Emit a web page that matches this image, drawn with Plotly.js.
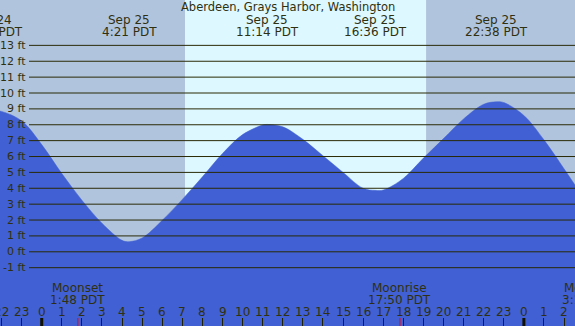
<!DOCTYPE html>
<html>
<head>
<meta charset="utf-8">
<script src="https://cdn.plot.ly/plotly-3.0.1.min.js"></script>
<style>
html,body{margin:0;padding:0;background:#fff;}
#chart{width:575px;height:326px;}
</style>
</head>
<body>
<div id="chart"></div>
<script>
// ---- data (hours relative to midnight starting Sep 25, heights in ft) ----
const tideHours = [-2.52, -2, -1, 0, 1, 2, 3, 4, 4.35, 5, 6, 7, 8, 9, 10, 11, 11.233, 12, 13, 14, 15, 16, 16.6, 17, 18, 19, 20, 21, 22, 22.633, 23, 24, 25, 26, 26.546];
const tideFeet  = [8.92, 8.84, 8.25, 6.75, 4.93, 3.25, 1.80, 0.72, 0.64, 0.87, 1.98, 3.30, 4.72, 6.19, 7.38, 7.98, 8.02, 7.87, 7.08, 6.05, 5.00, 4.00, 3.87, 3.89, 4.62, 5.90, 7.13, 8.37, 9.29, 9.45, 9.40, 8.59, 7.05, 5.23, 4.20];

const extremaHours = [-2.52, 4.35, 11.233, 16.6, 22.633];
const extremaDates = ["Sep 24", "Sep 25", "Sep 25", "Sep 25", "Sep 25"];
const extremaTimes = ["21:32 PDT", "4:21 PDT", "11:14 PDT", "16:36 PDT", "22:38 PDT"];

const moonHours  = [1.8, 17.833, 27.25];
const moonNames  = ["Moonset", "Moonrise", "Moonset"];
const moonTimes  = ["1:48 PDT", "17:50 PDT", "3:15 PDT"];

const sunrise = 7.133, sunset = 19.133;
const midnights = [0, 24];

const hourTicks = [-2,-1,0,1,2,3,4,5,6,7,8,9,10,11,12,13,14,15,16,17,18,19,20,21,22,23,24,25,26];
const hourLabels = hourTicks.map(h => String((h + 24) % 24));

const feetLevels = [-1,0,1,2,3,4,5,6,7,8,9,10,11,12,13];
const feetLabels = feetLevels.map(f => f + " ft");

// ---- layout constants ----
const W = 575, H = 326;
const xRange = [-2.076, 26.546];
const yRange = [-4.673, 15.857];
const txt = "#30300f";
const fam = "DejaVu Sans";
const font = {family: fam, size: 12, color: txt};
const fontSmall = {family: fam, size: 11, color: txt};
const fontTitle = {family: fam, size: 11.5, color: txt};
const nightColor = "#b0c4de", dayColor = "#ddf8ff", waterColor = "#4160d4";
const py = p => 1 - p / H;   // pixel-from-top -> paper y
const px = h => (h - xRange[0]) / (xRange[1] - xRange[0]);   // hour -> paper x

const traces = [
  {x: [xRange[0] - 2, xRange[1] + 2], y: [-20, -20], mode: "lines", line: {width: 0, color: waterColor}, hoverinfo: "skip", showlegend: false},
  {x: tideHours, y: tideFeet, mode: "lines", line: {shape: "spline", smoothing: 1, width: 0.5, color: waterColor},
   fill: "tonexty", fillcolor: waterColor, hoverinfo: "skip", showlegend: false}
];

const shapes = [];
shapes.push({type: "rect", xref: "x", yref: "paper", x0: xRange[0] - 5, x1: sunrise, y0: 0, y1: 1, fillcolor: nightColor, line: {width: 0}, layer: "below"});
shapes.push({type: "rect", xref: "x", yref: "paper", x0: sunset, x1: xRange[1] + 5, y0: 0, y1: 1, fillcolor: nightColor, line: {width: 0}, layer: "below"});
feetLevels.forEach(f => shapes.push({type: "line", xref: "paper", yref: "y", x0: 29 / W, x1: 1, y0: f, y1: f, line: {color: "#2a2a05", width: 1}, layer: "above"}));
midnights.forEach(h => shapes.push({type: "line", xref: "x", yref: "paper", x0: h, x1: h, y0: 0, y1: 8 / H, line: {color: "#111100", width: 3}, layer: "above"}));
moonHours.forEach(h => shapes.push({type: "line", xref: "x", yref: "paper", x0: h, x1: h, y0: 0, y1: 8 / H, line: {color: "#ff0000", width: 1}, layer: "above"}));

const annotations = [];
annotations.push({text: "Aberdeen, Grays Harbor, Washington", xref: "paper", yref: "paper", x: 0.5, y: py(7), xanchor: "center", yanchor: "middle", showarrow: false, font: fontTitle});
extremaHours.forEach((h, i) => {
  annotations.push({text: extremaDates[i], xref: "paper", yref: "paper", x: px(h), y: py(20), xanchor: "center", yanchor: "middle", showarrow: false, font: font});
  annotations.push({text: extremaTimes[i], xref: "paper", yref: "paper", x: px(h), y: py(32), xanchor: "center", yanchor: "middle", showarrow: false, font: font});
});
moonHours.forEach((h, i) => {
  annotations.push({text: moonNames[i], xref: "paper", yref: "paper", x: px(h), y: py(288), xanchor: "center", yanchor: "middle", showarrow: false, font: font});
  annotations.push({text: moonTimes[i], xref: "paper", yref: "paper", x: px(h), y: py(299.5), xanchor: "center", yanchor: "middle", showarrow: false, font: font});
});
feetLevels.forEach((f, i) => {
  annotations.push({text: feetLabels[i], xref: "paper", yref: "y", x: 27.5 / W, y: f, xanchor: "right", yanchor: "middle", showarrow: false, font: fontSmall});
});
hourTicks.forEach((h, i) => {
  annotations.push({text: hourLabels[i], xref: "paper", yref: "paper", x: px(h), y: py(311.5), xanchor: "center", yanchor: "middle", showarrow: false, font: font});
});

const layout = {
  width: W, height: H,
  margin: {l: 0, r: 0, t: 0, b: 0, pad: 0},
  paper_bgcolor: dayColor, plot_bgcolor: dayColor,
  showlegend: false,
  xaxis: {range: xRange, showgrid: false, zeroline: false, showline: false, fixedrange: true,
          tickvals: hourTicks, ticktext: hourLabels, ticks: "inside", ticklen: 8, tickwidth: 1, tickcolor: "#222200",
          showticklabels: false},
  yaxis: {range: yRange, showgrid: false, zeroline: false, showline: false, showticklabels: false, ticks: "", fixedrange: true},
  shapes: shapes,
  annotations: annotations
};

Plotly.newPlot("chart", traces, layout, {staticPlot: true, displayModeBar: false});
</script>
</body>
</html>
